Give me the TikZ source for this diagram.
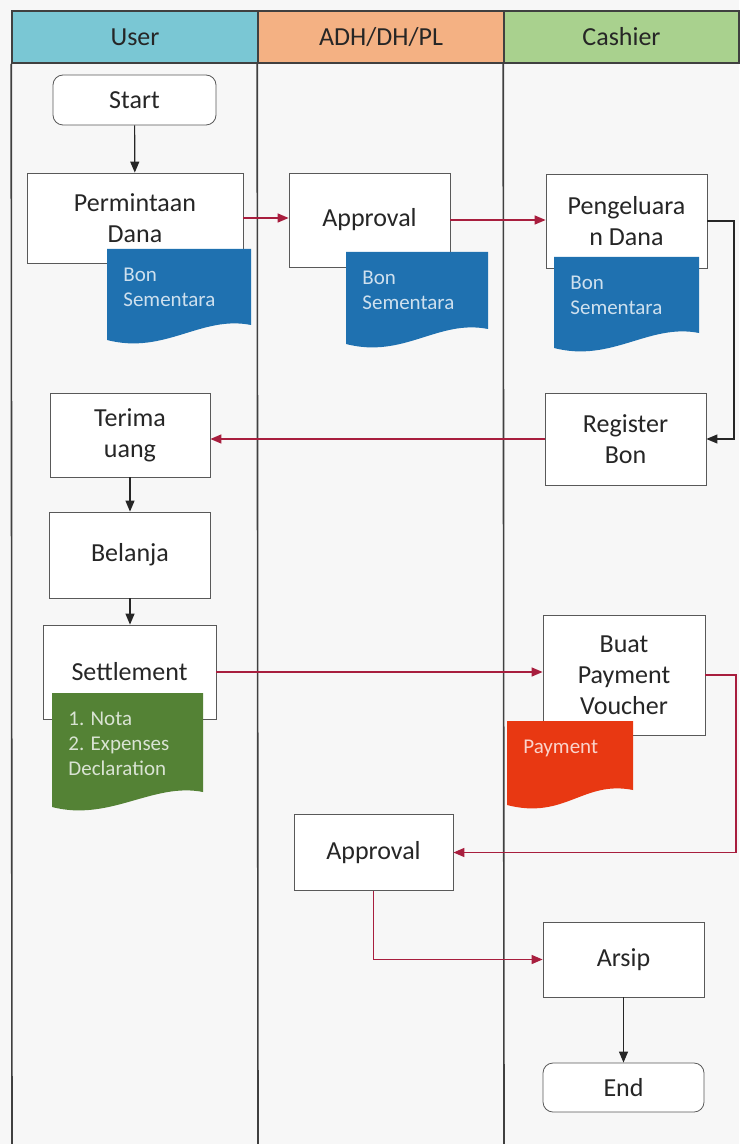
\documentclass[tikz,border=0pt]{standalone}
\usepackage{fontspec}
\setmainfont{Carlito}
\usetikzlibrary{arrows.meta,positioning}

\definecolor{laneuser}{RGB}{122,199,212}
\definecolor{laneadh}{RGB}{244,177,131}
\definecolor{lanecash}{RGB}{169,209,142}
\definecolor{docblue}{RGB}{31,113,176}
\definecolor{docgreen}{RGB}{84,130,53}
\definecolor{docred}{RGB}{232,56,18}
\definecolor{flowred}{RGB}{168,30,62}

% document symbol: name, left, top, right, right bottom, colour, text
\newcommand{\paperdoc}[7]{%
	\fill[#6] (#2,#3) -- (#4,#3) -- (#4,#5) .. controls +(-50,-10) and +(58,15) .. (#2,#5+15) -- cycle;
	\node[doctext, text=white!78!#6] (#1) at (#2+16,#3+19) {#7};
}

\begin{document}
\begin{tikzpicture}[
		x=0.5pt, y=-0.5pt,
		every node/.style={font=\fontsize{13}{15.5}\selectfont, text=black!85},
		lanehead/.style={draw=black!75, line width=0.8pt, minimum height=26pt, inner sep=0pt},
		laneline/.style={draw=black!75, line width=0.8pt},
		box/.style={draw=black!65, fill=white, align=center, inner sep=1pt},
		terminal/.style={box, rounded corners=5pt},
		dims/.style 2 args={minimum width=#1, minimum height=#2},
		doctext/.style={anchor=north west, align=left, inner sep=0pt, font=\fontsize{10.5}{12.5}\selectfont},
		flow/.style={draw=black!85, line width=0.6pt, -{Triangle[length=5.5pt,width=4.5pt]}},
		handoff/.style={draw=flowred, line width=0.7pt, -{Triangle[length=5.5pt,width=4.5pt]}}
		]
		
		\useasboundingbox (0,0) rectangle (739,1144);
		\fill[black!3] (0,0) rectangle (739,1144);
		
		% lanes
		\node[lanehead, fill=laneuser, minimum width=123pt] (hUser) at (135,37) {User};
		\node[lanehead, fill=laneadh, minimum width=123pt] (hAdh) at (381,37) {ADH/DH/PL};
		\node[lanehead, fill=lanecash, minimum width=117.5pt] (hCash) at (621.5,37) {Cashier};
		\draw[laneline] (hUser.south west) -- (12,1144);
		\draw[laneline] (hAdh.south west) -- (258,1144);
		\draw[laneline] (hCash.south west) -- (504,1144);
		
		% steps
		\node[terminal, dims={81.5pt}{25pt}] (start) at (134.5,100) {Start};
		\node[box, dims={108pt}{45pt}] (permintaan) at (135,218) {Permintaan\\Dana};
		\node[box, dims={80.5pt}{47pt}] (approvalA) at (369.5,220) {Approval};
		\node[box, dims={80.5pt}{47pt}] (pengeluaran) at (626.5,221) {Pengeluara\\n Dana};
		\node[box, dims={80pt}{42pt}] (terima) at (130,435) {Terima\\uang};
		\node[box, dims={80.5pt}{46pt}] (register) at (625.5,439) {Register\\Bon};
		\node[box, dims={80.5pt}{43pt}] (belanja) at (130,555) {Belanja};
		\node[box, dims={86.5pt}{47pt}] (settlement) at (129.5,672) {Settlement};
		\node[box, dims={81pt}{60pt}] (voucher) at (624,675) {Buat\\Payment\\Voucher};
		\node[box, dims={79.5pt}{38pt}] (approvalB) at (373.5,852.5) {Approval};
		\node[box, dims={80.5pt}{37.5pt}] (arsip) at (623.5,959.5) {Arsip};
		\node[terminal, dims={80.5pt}{24.5pt}] (end) at (623.5,1087.5) {End};
		
		% documents
		\paperdoc{bonUser}{107}{249}{251}{325}{docblue}{Bon\\Sementara}
		\paperdoc{bonAdh}{346}{252}{488}{329}{docblue}{Bon\\Sementara}
		\paperdoc{bonCash}{554}{257}{699}{333}{docblue}{Bon\\Sementara}
		\paperdoc{nota}{52}{693}{203}{792}{docgreen}{1. Nota\\2. Expenses\\Declaration}
		\paperdoc{payment}{507}{721}{633}{790}{docred}{Payment}
		
		% connectors
		\coordinate (loopA) at (734,0);
		\coordinate (loopB) at (736,0);
		\draw[flow] (start) -- (permintaan);
		\draw[handoff] (permintaan.east) -- (permintaan.east -| approvalA.west);
		\draw[handoff] (approvalA.east) -- (approvalA.east -| pengeluaran.west);
		\draw[flow] (pengeluaran.east) -- (pengeluaran.east -| loopA) |- (register.east);
		\draw[handoff] (register.west) -- (register.west -| terima.east);
		\draw[flow] (terima) -- (belanja);
		\draw[flow] (belanja.south) -- (belanja.south |- settlement.north);
		\draw[handoff] (settlement.east) -- (settlement.east -| voucher.west);
		\draw[handoff] (voucher.east) -- (voucher.east -| loopB) |- (approvalB.east);
		\draw[handoff] (approvalB.south) |- (arsip.west);
		\draw[flow] (arsip) -- (end);
		
	\end{tikzpicture}
\end{document}
